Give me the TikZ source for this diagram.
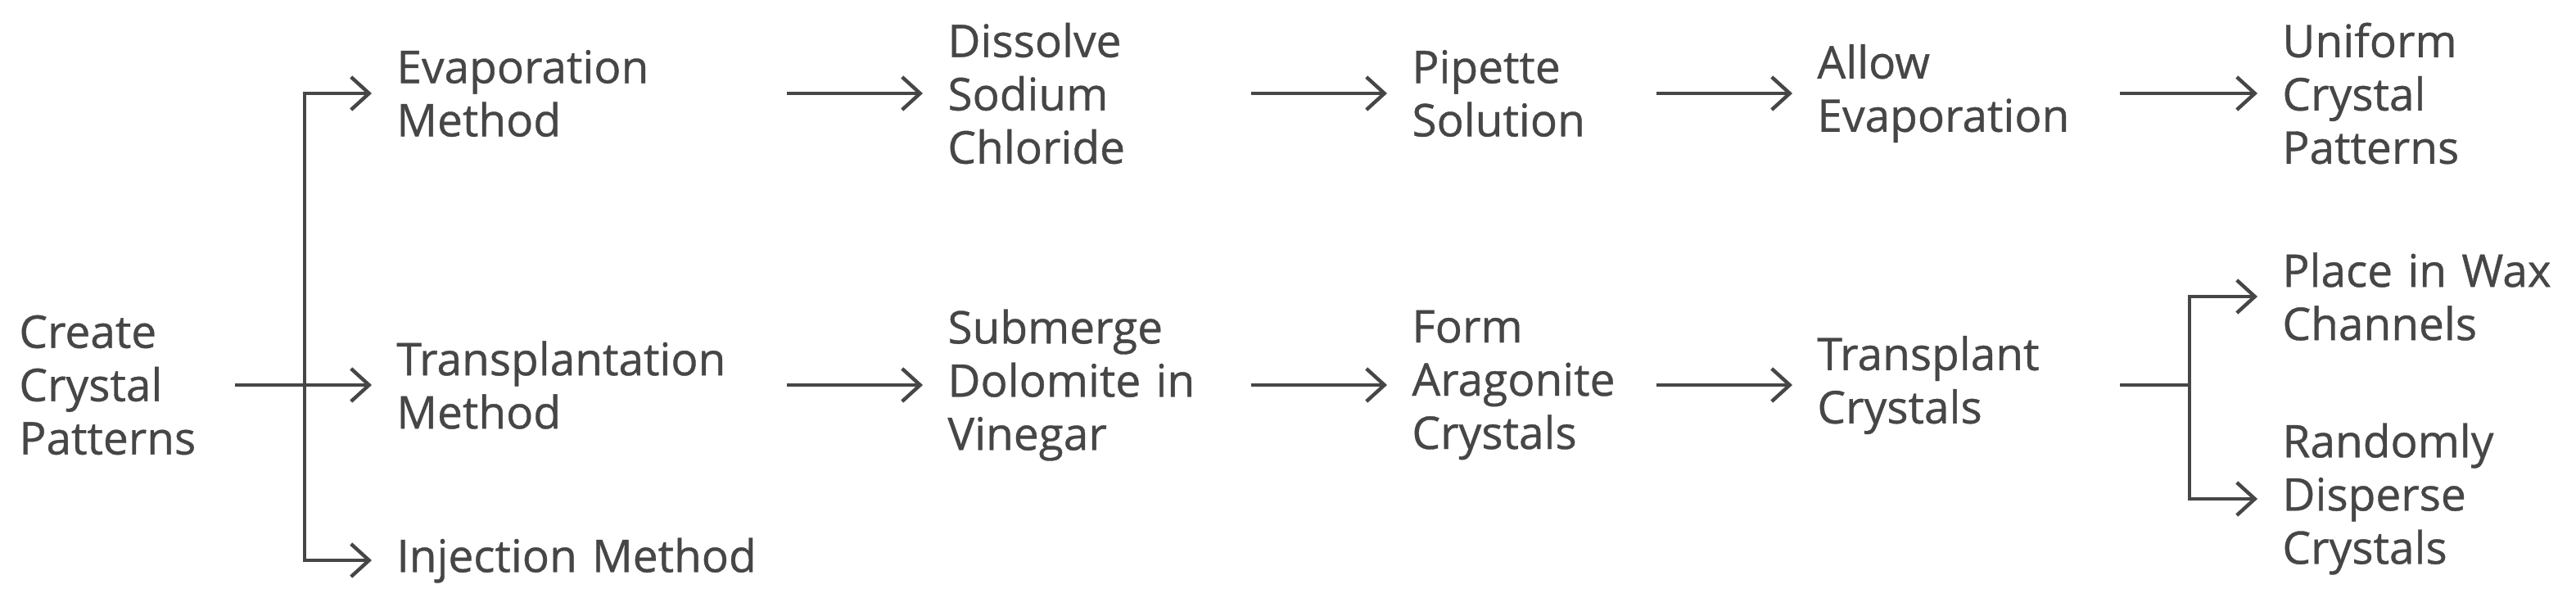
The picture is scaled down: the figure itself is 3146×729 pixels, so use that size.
\documentclass[tikz,border=0pt]{standalone}
\usepackage{fontspec}
\setmainfont{Open Sans}
\newfontfamily\stagefont{Open Sans}[FakeBold=0.7]
\usetikzlibrary{arrows.meta}
\definecolor{inkgray}{HTML}{464646}

\begin{document}
\begin{tikzpicture}%
	[x=0.5pt,
	y=-0.5pt,
	stage/.style={anchor=west, align=left, inner xsep=15pt, inner ysep=1pt, text=inkgray,
		font=\stagefont\fontsize{27.5pt}{32.5pt}\selectfont},
	col0/.style={stage, text width=116.5pt},
	col1/.style={stage, text width=223pt},
	col2/.style={stage, text width=170pt},
	col3/.style={stage, text width=134pt},
	col4/.style={stage, text width=169.5pt},
	col5/.style={stage, text width=170pt},
	link/.style={draw=inkgray, line width=2.2pt, -{Straight Barb[length=11pt,width=20pt]}},
	plainlink/.style={draw=inkgray, line width=2.2pt}]
%
\useasboundingbox (0,0) rectangle (3146,729);
%%
%% Drawing the stages
%%
\node[col0] (root) at (-7,470) {Create\\Crystal\\Patterns};
\node[col1] (evap) at (454,114) {Evaporation\\Method};
\node[col1] (transpl) at (454,470) {Transplantation\\Method};
\node[col1] (inject) at (454,684) {Injection Method};
\node[col2] (dissolve) at (1127,114) {Dissolve\\Sodium\\Chloride};
\node[col2] (submerge) at (1127,470) {Submerge\\Dolomite in\\Vinegar};
\node[col3] (pipette) at (1694,114) {Pipette\\Solution};
\node[col3] (form) at (1694,470) {Form\\Aragonite\\Crystals};
\node[col4] (allow) at (2189,114) {Allow\\Evaporation};
\node[col4] (transplant) at (2189,470) {Transplant\\Crystals};
\node[col5] (uniform) at (2757,114) {Uniform\\Crystal\\Patterns};
\node[col5] (wax) at (2757,362) {Place in Wax\\Channels};
\node[col5] (disperse) at (2757,609) {Randomly\\Disperse\\Crystals};
%%
%% Drawing the connectors
%%
\coordinate (rootsplit) at ([xshift=42.5pt]root.east);
\coordinate (cutsplit) at ([xshift=42.5pt]transplant.east);
\draw[link] (root.east) -- (transpl.west);
\draw[link] (rootsplit) |- (evap.west);
\draw[link] (rootsplit) |- (inject.west);
\draw[link] (evap.east) -- (dissolve.west);
\draw[link] (dissolve.east) -- (pipette.west);
\draw[link] (pipette.east) -- (allow.west);
\draw[link] (allow.east) -- (uniform.west);
\draw[link] (transpl.east) -- (submerge.west);
\draw[link] (submerge.east) -- (form.west);
\draw[link] (form.east) -- (transplant.west);
\draw[plainlink] (transplant.east) -- (cutsplit);
\draw[link] (cutsplit) |- (wax.west);
\draw[link] (cutsplit) |- (disperse.west);
\end{tikzpicture}
\end{document}
